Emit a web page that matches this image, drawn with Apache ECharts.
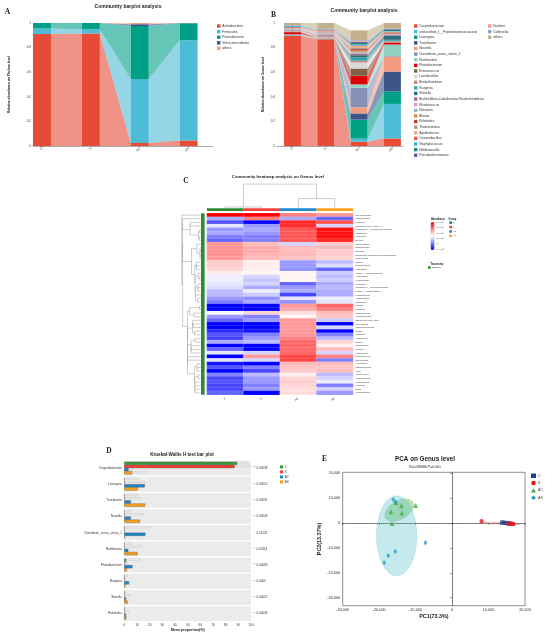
<!DOCTYPE html>
<html>
<head>
<meta charset="utf-8">
<title>Community analysis</title>
<script src="https://cdn.jsdelivr.net/npm/echarts@6/dist/echarts.min.js"></script>
<style>
  html, body { margin: 0; padding: 0; background: #fff; }
  #chart { width: 550px; height: 636px; }
</style>
</head>
<body>
<div id="chart"></div>
<script>
// ---------- shared ----------
const groups = ['C', 'X', 'AC', 'AX'];

// ---------- A: phylum barplot ----------
const phylumNames = ['Actinobacteria', 'Firmicutes', 'Proteobacteria', 'Verrucomicrobiota', 'others'];
const phylumColors = ['#E64B35', '#4DBBD5', '#00A087', '#3C5488', '#F39B7F'];
const phylumValues = [
  [0.910, 0.915, 0.025, 0.045],
  [0.045, 0.035, 0.520, 0.815],
  [0.045, 0.050, 0.430, 0.138],
  [0.000, 0.000, 0.015, 0.001],
  [0.000, 0.000, 0.010, 0.001]
];

// ---------- B: genus barplot ----------
const genusNames = ['Corynebacterium', 'unclassified_f__Peptostreptococcaceae', 'Leisingera', 'Turicibacter',
  'Nautella', 'Clostridium_sensu_stricto_1', 'Romboutsia', 'Photobacterium', 'Enterococcus', 'Lactobacillus',
  'Bradyrhizobium', 'Ruegeria', 'Shinella', 'Burkholderia-Caballeronia-Paraburkholderia', 'Rhodococcus',
  'Ralstonia', 'Blautia', 'Rubritalea', 'Thalassotalea', 'Agathobacter', 'Oceanobacillus', 'Staphylococcus',
  'Holdemanella', 'Pseudoalteromonas', 'Dialister', 'Collinsella', 'others'];
const genusColors = ['#E64B35', '#4DBBD5', '#00A087', '#3C5488', '#F39B7F', '#8491B4', '#91D1C2', '#DC0000',
  '#7E6148', '#D9D9D9', '#C48A8A', '#2BA5A5', '#2E6E7E', '#9E6E8E', '#D7A7B4', '#9CB5C8', '#E0894A',
  '#B5432A', '#A89C94', '#F4A582', '#E5614E', '#3FB2D8', '#1B8A7A', '#6A5E9C', '#EE9C94', '#8FA3C4', '#C2B08A'];
const genusValues = [
  [0.895, 0.868, 0.035, 0.062],
  [0.005, 0.004, 0.024, 0.280],
  [0.001, 0.001, 0.155, 0.103],
  [0.001, 0.001, 0.051, 0.160],
  [0.004, 0.003, 0.049, 0.120],
  [0.001, 0.001, 0.160, 0.005],
  [0.001, 0.001, 0.027, 0.095],
  [0.017, 0.002, 0.070, 0.016],
  [0.002, 0.002, 0.059, 0.003],
  [0.003, 0.004, 0.049, 0.003],
  [0.008, 0.008, 0.015, 0.008],
  [0.001, 0.001, 0.025, 0.008],
  [0.001, 0.001, 0.019, 0.035],
  [0.004, 0.006, 0.010, 0.005],
  [0.005, 0.010, 0.010, 0.003],
  [0.006, 0.008, 0.008, 0.003],
  [0.001, 0.002, 0.010, 0.006],
  [0.001, 0.001, 0.012, 0.008],
  [0.002, 0.003, 0.010, 0.003],
  [0.002, 0.005, 0.012, 0.003],
  [0.006, 0.008, 0.006, 0.002],
  [0.010, 0.006, 0.010, 0.004],
  [0.001, 0.001, 0.012, 0.012],
  [0.001, 0.001, 0.010, 0.006],
  [0.001, 0.002, 0.006, 0.002],
  [0.001, 0.002, 0.006, 0.002],
  [0.019, 0.048, 0.080, 0.043]
];

// ---------- C: heatmap ----------
const heatColumns = ['X', 'C', 'AC', 'AX'];
const heatColumnColors = ['#2E8B34', '#F0433A', '#1E88D2', '#F7A21B'];
const heatGenera = ['Corynebacterium', 'Staphylococcus', 'Leisingera', 'Clostridium_sensu_stricto_1',
  'unclassified_f__Peptostreptococcaceae', 'Romboutsia', 'Turicibacter', 'Nautella', 'Oceanobacillus',
  'Bradyrhizobium', 'Ralstonia', 'Burkholderia-Caballeronia-Paraburkholderia', 'Rhodococcus', 'Bacillus',
  'Brevundimonas', 'Virgibacillus', 'norank_f__Caulobacteraceae', 'Acinetobacter', 'Herbaspirillum',
  'Geobacillus', 'unclassified_f__Enterobacteriaceae', 'norank_f__Muribaculaceae', 'Faecalibaculum',
  'Anaeroplasma', 'Bacteroides', 'Shinella', 'Rubritalea', 'Bifidobacterium', 'Faecalibacterium',
  'Eubacterium_hallii_group', 'Holdemanella', 'Pseudoalteromonas', 'Dialister', 'Collinsella', 'Agathobacter',
  'Blautia', 'Thalassotalea', 'Ruegeria', 'Lactobacillus', 'Photobacterium', 'Enterococcus', 'Alteromonas',
  'Subdoligranulum', 'Vibrio', 'Streptococcus', 'Fusicatenibacter', 'Ruminococcus', 'Prevotella', 'Dorea',
  'Psychrosphaera'];
const heatValues = [
  [3, 3, 1.5, 1.2], [-1, 1.5, -1, -1.8], [-2, -3, 2.5, 2], [-0.3, -1.2, 2.5, -0.5],
  [-1.2, -1, 2, 2.8], [-1, -1.2, 2, 2.8], [-1.5, -1.5, 2, 2.8], [-1.8, -1.5, 2, 2.5],
  [1.2, 0.8, -0.5, 0.6], [1.3, 1.0, 0.8, 0.8], [1.3, 1.0, 0.8, 0.6], [1.3, 0.9, 0.8, 0.6],
  [1.2, 0.8, 0.7, 0.5], [0.6, 0.2, -1.2, -0.8], [0.6, 0.2, -1.2, -0.4], [0.5, 0.2, -1.3, -1.8],
  [0.2, 0.1, 0.1, -0.6], [-0.2, -0.5, 0.1, -0.8], [-0.2, -0.7, 0.1, -0.6], [-0.3, -0.5, -1.8, -1.0],
  [-0.4, -1.0, -1.2, -0.8], [-0.8, -0.2, -1.0, -1.0], [-0.8, -0.6, -2.2, -1.0], [-1.2, -1.3, -0.3, -0.2],
  [-1.5, -1.0, -1.3, -0.3], [-3, -3, 1.2, 1.8], [-3, -3, 1.0, 1.5], [-0.1, 0.5, 0.4, 0.8],
  [-1.2, -1.5, 0.1, 0.7], [-1.8, -1.2, 1.2, -0.6], [-3, -3, 1.2, -3], [-3, -3, 1.2, -0.5],
  [-2.5, -2.8, 1.2, -3], [-2, -1.5, 1.2, -1.5], [-2.2, -1.2, 1.5, -0.8], [-1.0, -0.8, 1.8, 0.5],
  [-3, -3, 1.8, 0.2], [-1.8, -3, 1.8, 0.8], [-0.3, -0.5, 1.8, -0.5], [-3, 1.2, 2.2, 1.5],
  [-0.3, -0.5, 2.2, -1.5], [-2.8, -3, 0.8, 0.8], [-2.0, -1.5, 0.7, 0.7], [-3, -2.2, 0.6, 0.8],
  [-1.5, -0.8, 0.2, -0.8], [-2.2, -1.2, 0.5, -0.5], [-2, -1.2, 0.6, -0.2], [-2.2, -1.5, 0.5, -1.5],
  [-2.2, -1.2, 0.4, -0.5], [-1.8, -3, 0.4, -1.2]
];
const abundanceLabels = ['3 × 10⁴', '2 × 10³', '2 × 10²', '5 × 10¹', '1', '1 × 10⁻¹'];
// row clustering topology (leaf = row index)
const treeTop = [1, [[2, 3], [[4, 5], [6, 7]]]];
const treePink = [8, [[9, 10], [11, 12]]];
const treeMid = [[13, [14, 15]], [[16, [17, 18]], [[19, [20, 21]], [22, [23, 24]]]]];
const treeLow1 = [[25, 26], [27, 28]];
const treeLow2 = [[29, [30, 31]], [32, 33]];
const treeLow3 = [[34, 35], [36, [37, 38]]];
const treeLow4 = [[39, 40], [[41, [42, 43]], [[44, 45], [46, [47, [48, 49]]]]]];
const rowTree = [0, [[treeTop, [treePink, treeMid]], [treeLow1, [treeLow2, [treeLow3, treeLow4]]]]];
const colTree = [[0, 1], [2, 3]];

// ---------- D: Kruskal-Wallis ----------
const kwGenera = ['Corynebacterium', 'Leisingera', 'Turicibacter', 'Nautella', 'Clostridium_sensu_stricto_1',
  'Romboutsia', 'Photobacterium', 'Ruegeria', 'Shinella', 'Rubritalea'];
const kwColors = ['#3A9A3A', '#F0443A', '#1F86C8', '#F59E1A'];
const kwMeanC = [89, 0.2, 0.1, 0.1, 0.1, 0.1, 1.5, 0.1, 0.1, 0.1];
const kwMeanX = [87, 0.2, 0.1, 0.1, 0.1, 0.1, 0.2, 0.1, 0.1, 0.1];
const kwMeanAC = [3.2, 16, 5, 5, 16.5, 3, 6.3, 3.6, 1.3, 1.2];
const kwMeanAX = [6.2, 10.5, 16.3, 12.2, 0.2, 10.3, 2, 0.8, 2.5, 1.5];
const kwUpperC = [97, 11, 10.5, 5, 21, 5.8, 12.4, 2.9, 1, 1];
const kwUpperX = [99, 16, 13.7, 15.5, 0.5, 13.7, 2.6, 0.8, 4.5, 3.4];
const kwUpperAC = [6.6, 16.5, 5.5, 5.5, 17, 3.2, 8.4, 4, 1.8, 1.5];
const kwUpperAX = [17, 10.5, 16.5, 12.5, 0.3, 10.5, 2.3, 1, 2.8, 1.8];
const kwPvalues = [0.00038, 0.00025, 0.00031, 0.00049, 0.01125, 0.00114, 0.00083, 0.0003, 0.00025, 0.00043];

// ---------- E: PCA ----------
const pcaColors = ['#1B4594', '#E8141B', '#45B045', '#1F9FC8'];
const pcaSymbols = ['rect', 'circle', 'triangle', 'diamond'];
const pcaC = [[13700, 250], [14300, 120], [14800, 30], [15300, -80], [15700, -150], [16100, -220]];
const pcaX = [[8100, 750], [15100, -60], [15600, -200], [16100, -280], [16600, -350], [16900, -420]];
const pcaAC = [[-10000, 7100], [-13900, 7000], [-16800, 4560], [-13800, 4020], [-16500, -130], [-15400, 8300]];
const pcaAX = [[-16100, 9500], [-15500, 8450], [-7300, -7900], [-15600, -11400], [-17500, -13100], [-18600, -15950]];
const ellipseCx = [15000, 13200, -14500, -15200];
const ellipseCy = [-50, -150, 5200, -5100];
const ellipseRx = [2000, 5500, 4300, 5500];
const ellipseRy = [250, 350, 3700, 16000];
const ellipseAngle = [0, -3, 30, 0];
const ellipseFill = ['rgba(40,70,150,0.25)', 'rgba(240,120,120,0.3)', 'rgba(120,190,90,0.5)', 'rgba(100,200,210,0.38)'];
const ellipseStroke = ['rgba(40,70,150,0.5)', 'rgba(240,110,110,0.7)', 'rgba(90,170,80,0.6)', 'rgba(90,190,200,0.7)'];

// ---------- helpers ----------
const FONT = 'Liberation Sans';

function stackRibbonSeries(names, colors, values, axisIndex, barPx) {
  function base(k, i) {
    let s = 0;
    for (let j = 0; j < k; j++) s += values[j][i];
    return s;
  }
  return names.map(function (name, k) {
    return {
      name: name,
      type: 'custom',
      xAxisIndex: axisIndex,
      yAxisIndex: axisIndex,
      itemStyle: { color: colors[k] },
      data: groups.map(function (g, i) { return [i, values[k][i]]; }),
      encode: { x: 0, y: 1 },
      renderItem: function (params, api) {
        const i = params.dataIndex;
        const lo = base(k, i), hi = lo + values[k][i];
        const a = api.coord([i, lo]), b = api.coord([i, hi]);
        const half = barPx / 2;
        const kids = [];
        if (i < groups.length - 1) {
          const lo2 = base(k, i + 1), hi2 = lo2 + values[k][i + 1];
          const c = api.coord([i + 1, lo2]), d = api.coord([i + 1, hi2]);
          kids.push({
            type: 'polygon',
            shape: { points: [[a[0] + half, a[1]], [a[0] + half, b[1]], [c[0] - half, d[1]], [c[0] - half, c[1]]] },
            style: { fill: colors[k], opacity: 0.6 }
          });
        }
        kids.push({
          type: 'rect',
          shape: { x: a[0] - half, y: b[1], width: barPx, height: a[1] - b[1] },
          style: { fill: colors[k] }
        });
        return { type: 'group', children: kids };
      }
    };
  });
}

function leavesOf(node) {
  return Array.isArray(node) ? leavesOf(node[0]).concat(leavesOf(node[1])) : [node];
}
function euclid(a, b) {
  let s = 0;
  for (let i = 0; i < a.length; i++) { const d = a[i] - b[i]; s += d * d; }
  return Math.sqrt(s);
}
// average linkage height, kept monotonic
function linkHeight(node, vecs) {
  if (!Array.isArray(node)) return 0;
  const L = leavesOf(node[0]), R = leavesOf(node[1]);
  let s = 0;
  L.forEach(function (i) { R.forEach(function (j) { s += euclid(vecs[i], vecs[j]); }); });
  return Math.max(s / (L.length * R.length), linkHeight(node[0], vecs), linkHeight(node[1], vecs));
}
// returns {p, h}; pushes U-shaped polylines into out
function dendro(node, vecs, leafPos, hPos, toXY, out) {
  if (!Array.isArray(node)) return { p: leafPos(node), h: 0 };
  const a = dendro(node[0], vecs, leafPos, hPos, toXY, out);
  const b = dendro(node[1], vecs, leafPos, hPos, toXY, out);
  const h = linkHeight(node, vecs);
  out.push([toXY(a.p, hPos(a.h)), toXY(a.p, hPos(h)), toXY(b.p, hPos(h)), toXY(b.p, hPos(b.h))]);
  return { p: (a.p + b.p) / 2, h: h };
}

function gText(text, x, y, size, extra) {
  return {
    type: 'text', x: x, y: y, silent: true,
    style: Object.assign({ text: text, fontSize: size, fontFamily: FONT, fill: '#222',
      align: 'center', verticalAlign: 'middle' }, extra || {})
  };
}

const axisLineStyle = { color: '#555', width: 0.5 };
const tickFmt = function (v) { return String(Math.round(v * 10) / 10); };

// ---------- series ----------
const series = [];
stackRibbonSeries(phylumNames, phylumColors, phylumValues, 0, 18).forEach(function (s) { series.push(s); });
stackRibbonSeries(genusNames, genusColors, genusValues, 1, 17).forEach(function (s) { series.push(s); });

// heatmap
const heatData = [];
heatValues.forEach(function (row, r) { row.forEach(function (v, c) { heatData.push([c, r, v]); }); });
const heatIndex = series.length;
series.push({
  type: 'heatmap', xAxisIndex: 2, yAxisIndex: 2, data: heatData,
  itemStyle: { borderColor: 'rgba(255,255,255,0.4)', borderWidth: 0.3 },
  emphasis: { disabled: true }
});

const rowVecs = heatValues;
const colVecs = heatColumns.map(function (col) {
  const gi = groups.indexOf(col);
  return genusValues.map(function (row) { return row[gi]; });
});
const rowMaxH = linkHeight(rowTree, rowVecs);
const colMaxH = linkHeight(colTree, colVecs);

// dendrograms + annotation bars
series.push({
  type: 'custom', xAxisIndex: 2, yAxisIndex: 2, silent: true,
  data: [[0, 0]], encode: { x: 0, y: 1 },
  renderItem: function (params, api) {
    const cell = api.size([1, 1]);
    const o = api.coord([0, 0]);
    const left = o[0] - cell[0] / 2;
    const top = o[1] - cell[1] / 2;
    const bottom = api.coord([0, heatGenera.length - 1])[1] + cell[1] / 2;
    const kids = [];
    const rowLines = [];
    dendro(rowTree, rowVecs,
      function (r) { return api.coord([0, r])[1]; },
      function (h) { return left - 6.3 - h / rowMaxH * 19; },
      function (p, hp) { return [hp, p]; }, rowLines);
    const colLines = [];
    dendro(colTree, colVecs,
      function (c) { return api.coord([c, 0])[0]; },
      function (h) { return top - 5.2 - h / colMaxH * 24; },
      function (p, hp) { return [p, hp]; }, colLines);
    rowLines.concat(colLines).forEach(function (pts) {
      kids.push({ type: 'polyline', shape: { points: pts }, style: { stroke: '#9a9a9a', lineWidth: 0.5, fill: null } });
    });
    kids.push({ type: 'rect', shape: { x: left - 6, y: top, width: 3.6, height: bottom - top }, style: { fill: '#2E8B34' } });
    heatColumns.forEach(function (col, c) {
      const cx = api.coord([c, 0])[0];
      kids.push({ type: 'rect', shape: { x: cx - cell[0] / 2, y: top - 5, width: cell[0], height: 2.7 },
        style: { fill: heatColumnColors[c] } });
    });
    return { type: 'group', children: kids };
  }
});

// D: background bands
series.push({
  type: 'custom', xAxisIndex: 3, yAxisIndex: 3, silent: true, z: 1,
  data: kwGenera.map(function (g, r) { return [0, r]; }), encode: { x: 0, y: 1 },
  renderItem: function (params, api) {
    const r = params.dataIndex;
    const p = api.coord([0, r]);
    const sz = api.size([100, 1]);
    return { type: 'rect', shape: { x: p[0], y: p[1] - sz[1] * 0.46, width: sz[0], height: sz[1] * 0.92 },
      style: { fill: '#EBEBEB' } };
  }
});
// D: grey upper-bound lines
const kwMeans = [kwMeanC, kwMeanX, kwMeanAC, kwMeanAX];
const kwUppers = [kwUpperC, kwUpperX, kwUpperAC, kwUpperAX];
const kwCatGap = 0.22;
const errData = [];
kwGenera.forEach(function (g, r) { kwUppers.forEach(function (u, gi) { errData.push([u[r], r, gi]); }); });
series.push({
  type: 'custom', xAxisIndex: 3, yAxisIndex: 3, silent: true, z: 2,
  data: errData, encode: { x: 0, y: 1 },
  renderItem: function (params, api) {
    const d = errData[params.dataIndex];
    const band = api.size([1, 1])[1];
    const barH = band * (1 - kwCatGap) / 4;
    const y = api.coord([0, d[1]])[1] + (d[2] - 1.5) * barH - barH * 0.25;
    const x0 = api.coord([0, d[1]])[0], x1 = api.coord([d[0], d[1]])[0];
    return { type: 'rect', shape: { x: x0, y: y - 0.6, width: x1 - x0, height: 1.2 },
      style: { fill: '#fff', stroke: '#a8a8a8', lineWidth: 0.35 } };
  }
});
// D: bars
groups.forEach(function (g, gi) {
  series.push({
    name: g, type: 'bar', xAxisIndex: 3, yAxisIndex: 3, z: 3,
    data: kwMeans[gi], barGap: '0%', barCategoryGap: (kwCatGap * 100) + '%',
    itemStyle: { color: kwColors[gi], borderColor: '#333', borderWidth: 0.25 },
    emphasis: { disabled: true }
  });
});
// D: p-values
series.push({
  type: 'custom', xAxisIndex: 3, yAxisIndex: 3, silent: true,
  data: kwPvalues.map(function (p, r) { return [100, r, p]; }), encode: { x: 0, y: 1 },
  renderItem: function (params, api) {
    const r = params.dataIndex;
    const p = kwPvalues[r];
    const pt = api.coord([100, r]);
    const stars = p < 0.001 ? '***' : (p < 0.01 ? '**' : (p < 0.05 ? '*' : ''));
    return { type: 'group', children: [
      { type: 'text', x: pt[0] + 3.3, y: pt[1] + 0.6,
        style: { text: stars, fontSize: 2.8, fontFamily: FONT, fill: '#F08080', align: 'center', verticalAlign: 'middle' } },
      { type: 'text', x: pt[0] + 5.6, y: pt[1],
        style: { text: String(p), fontSize: 3, fontFamily: FONT, fill: '#333', align: 'left', verticalAlign: 'middle' } }
    ] };
  }
});

// E: ellipses
series.push({
  type: 'custom', xAxisIndex: 4, yAxisIndex: 4, silent: true, z: 1,
  data: ellipseCx.map(function (cx, i) { return [cx, ellipseCy[i]]; }), encode: { x: 0, y: 1 },
  renderItem: function (params, api) {
    const i = params.dataIndex;
    const c = api.coord([ellipseCx[i], ellipseCy[i]]);
    const r = api.size([ellipseRx[i], ellipseRy[i]]);
    const phi = ellipseAngle[i] * Math.PI / 180;
    const pts = [];
    for (let s = 0; s < 72; s++) {
      const t = s / 72 * Math.PI * 2;
      const ex = r[0] * Math.cos(t), ey = r[1] * Math.sin(t);
      pts.push([c[0] + ex * Math.cos(phi) - ey * Math.sin(phi), c[1] - (ex * Math.sin(phi) + ey * Math.cos(phi))]);
    }
    return { type: 'polygon', shape: { points: pts }, style: { fill: ellipseFill[i], stroke: ellipseStroke[i], lineWidth: 0.4 } };
  }
});
// E: points
[pcaC, pcaX, pcaAC, pcaAX].forEach(function (pts, gi) {
  const s = {
    name: groups[gi], type: 'scatter', xAxisIndex: 4, yAxisIndex: 4, z: 3,
    data: pts, symbol: pcaSymbols[gi],
    symbolSize: gi === 3 ? [3.6, 5.6] : (gi === 2 ? 5 : 4.2),
    itemStyle: { color: pcaColors[gi] },
    emphasis: { disabled: true }
  };
  if (gi === 0) {
    s.markLine = {
      silent: true, symbol: 'none', label: { show: false },
      lineStyle: { type: [1.2, 1.2], color: '#555', width: 0.6 },
      data: [{ xAxis: 0 }, { yAxis: 0 }]
    };
  }
  series.push(s);
});

// ---------- legends ----------
function legendItems(names, colors, icons) {
  return names.map(function (n, k) {
    return { name: n, icon: icons ? icons[k] : 'rect',
      itemStyle: { color: colors[k], borderWidth: 0, borderColor: colors[k], opacity: 1 } };
  });
}
const legendBase = { orient: 'vertical', padding: 0, selectedMode: false, itemWidth: 3.4, itemHeight: 3.4,
  itemStyle: { borderWidth: 0 },
  textStyle: { fontSize: 3.3, lineHeight: 4, fontFamily: FONT, color: '#333', padding: [0, 0, 0, -3.2] } };

const legends = [
  Object.assign({}, legendBase, { left: 217, top: 24, itemGap: 1.6,
    data: legendItems(phylumNames, phylumColors) }),
  Object.assign({}, legendBase, { left: 414, top: 24, itemGap: 1.62,
    data: legendItems(genusNames.slice(0, 24), genusColors.slice(0, 24)) }),
  Object.assign({}, legendBase, { left: 488, top: 24, itemGap: 1.62,
    data: legendItems(genusNames.slice(24), genusColors.slice(24)) }),
  Object.assign({}, legendBase, { left: 280, top: 465, itemGap: 1.2, itemWidth: 3, itemHeight: 3,
    textStyle: { fontSize: 3, lineHeight: 3.8, fontFamily: FONT, color: '#333', padding: [0, 0, 0, -3.2] },
    data: legendItems(groups, kwColors) }),
  Object.assign({}, legendBase, { left: 531, top: 473.5, itemGap: 2.8, itemWidth: 5, itemHeight: 4.5,
    textStyle: { fontSize: 3.6, lineHeight: 4.5, fontFamily: FONT, color: '#333', padding: [0, 0, 0, -3] },
    data: legendItems(groups, pcaColors, pcaSymbols) })
];

// ---------- graphic texts ----------
const serif = { fontFamily: 'Liberation Serif', fontWeight: 'bold' };
const graphics = [
  gText('A', 7.5, 12.5, 7.5, serif),
  gText('B', 273.5, 15, 7.5, serif),
  gText('C', 186, 181, 7.5, serif),
  gText('D', 109, 451.5, 7.5, serif),
  gText('E', 324.5, 459.5, 7.5, serif),
  gText('Community barplot analysis', 128, 6.2, 5, { fontWeight: 'bold' }),
  gText('Community barplot analysis', 364, 11, 5, { fontWeight: 'bold' }),
  gText('Community heatmap analysis on Genus level', 278, 177.2, 4.3, { fontWeight: 'bold' }),
  gText('Kruskal-Wallis H test bar plot', 182, 455, 4.6, { fontWeight: 'bold' }),
  gText('PCA on Genus level', 425, 459.5, 6.3, { fontWeight: 'bold' }),
  gText('R=0.68688,{i|P}=0.001', 425, 467.2, 3.6, { rich: { i: { fontStyle: 'italic', fontSize: 3.6, fontFamily: FONT } } }),
  gText('Abundance', 438, 219, 2.6, { fontWeight: 'bold' }),
  gText('Group', 452.5, 219, 2.6, { fontWeight: 'bold' }),
  gText('Taxonomy', 437, 264.5, 2.6, { fontWeight: 'bold' }),
  { type: 'rect', shape: { x: 428, y: 266.2, width: 2.6, height: 2.6 }, style: { fill: '#2E8B34' }, silent: true },
  gText('Bacteria', 432, 267.5, 2.3, { align: 'left' })
];
abundanceLabels.forEach(function (t, i) {
  graphics.push(gText(t, 436.5, 222.5 + i * 5.3, 2.3, { align: 'left' }));
});
groups.forEach(function (g, i) {
  graphics.push({ type: 'rect', shape: { x: 449.3, y: 221.3 + i * 4.4, width: 2.6, height: 2.6 },
    style: { fill: heatColumnColors[i] }, silent: true });
  graphics.push(gText(g, 453, 222.6 + i * 4.4, 2.3, { align: 'left' }));
});

// ---------- option ----------
const option = {
  animation: false,
  textStyle: { fontFamily: FONT },
  grid: [
    { left: 33, top: 23, width: 180, height: 123, outerBoundsMode: 'none' },
    { left: 277, top: 23, width: 125.9, height: 123, outerBoundsMode: 'none' },
    { left: 207, top: 213.3, width: 146, height: 181.4, outerBoundsMode: 'none' },
    { left: 124.3, top: 460, width: 126.7, height: 161.7, outerBoundsMode: 'none' },
    { left: 342.7, top: 472.3, width: 182.3, height: 133.4, show: true, borderColor: '#222', borderWidth: 0.5, outerBoundsMode: 'none' }
  ],
  xAxis: [
    { gridIndex: 0, type: 'value', min: -0.184, max: 3.5, splitLine: { show: false },
      axisLine: { lineStyle: axisLineStyle },
      axisTick: { customValues: [0, 1, 2, 3], length: 1.5, lineStyle: axisLineStyle },
      axisLabel: { customValues: [0, 1, 2, 3], formatter: function (v) { return groups[Math.round(v)]; },
        rotate: 45, fontSize: 3.2, color: '#333', margin: 2 } },
    { gridIndex: 1, type: 'value', min: -0.465, max: 3.315, splitLine: { show: false },
      axisLine: { lineStyle: axisLineStyle },
      axisTick: { customValues: [0, 1, 2, 3], length: 1.5, lineStyle: axisLineStyle },
      axisLabel: { customValues: [0, 1, 2, 3], formatter: function (v) { return groups[Math.round(v)]; },
        rotate: 45, fontSize: 3.2, color: '#333', margin: 2 } },
    { gridIndex: 2, type: 'category', data: heatColumns, axisLine: { show: false }, axisTick: { show: false },
      axisLabel: { interval: 0, rotate: 45, fontSize: 3, color: '#333', margin: 3 } },
    { gridIndex: 3, type: 'value', min: 0, max: 100, interval: 10, splitLine: { show: false },
      axisLine: { lineStyle: { color: '#222', width: 0.5 } },
      axisTick: { length: 1.5, lineStyle: { color: '#222', width: 0.5 } },
      axisLabel: { fontSize: 3.2, color: '#333', margin: 2 },
      name: 'Mean proportion(%)', nameLocation: 'middle', nameGap: 6.5,
      nameTextStyle: { fontSize: 3.6, fontWeight: 'bold', color: '#222' } },
    { gridIndex: 4, type: 'value', min: -30000, max: 20000, interval: 10000, splitLine: { show: false },
      axisLine: { lineStyle: { color: '#222', width: 0.5 } },
      axisTick: { length: 1.8, lineStyle: { color: '#222', width: 0.5 } },
      axisLabel: { fontSize: 3.8, color: '#333', margin: 2.5,
        formatter: function (v) { return v.toLocaleString('en-US'); } },
      name: 'PC1(73.3%)', nameLocation: 'middle', nameGap: 8,
      nameTextStyle: { fontSize: 5.4, fontWeight: 'bold', color: '#222' } }
  ],
  yAxis: [
    { gridIndex: 0, type: 'value', min: 0, max: 1, interval: 0.2, splitLine: { show: false },
      axisLine: { show: true, lineStyle: axisLineStyle },
      axisTick: { show: true, length: 1.5, lineStyle: axisLineStyle },
      axisLabel: { fontSize: 3, color: '#333', margin: 2, formatter: tickFmt },
      name: 'Relative abundance on Phylum level', nameLocation: 'middle', nameGap: 22,
      nameTextStyle: { fontSize: 3.3, fontWeight: 'bold', color: '#222' } },
    { gridIndex: 1, type: 'value', min: 0, max: 1, interval: 0.2, splitLine: { show: false },
      axisLine: { show: true, lineStyle: axisLineStyle },
      axisTick: { show: true, length: 1.5, lineStyle: axisLineStyle },
      axisLabel: { fontSize: 3, color: '#333', margin: 2, formatter: tickFmt },
      name: 'Relative abundance on Genus level', nameLocation: 'middle', nameGap: 12,
      nameTextStyle: { fontSize: 3.3, fontWeight: 'bold', color: '#222' } },
    { gridIndex: 2, type: 'category', data: heatGenera, inverse: true, position: 'right',
      axisLine: { show: false }, axisTick: { show: false },
      axisLabel: { interval: 0, fontSize: 2.1, color: '#333', margin: 2.5 } },
    { gridIndex: 3, type: 'category', data: kwGenera, inverse: true,
      axisLine: { show: false }, axisTick: { show: false },
      axisLabel: { interval: 0, fontSize: 3, color: '#333', margin: 2.5 } },
    { gridIndex: 4, type: 'value', min: -33200, max: 20400, splitLine: { show: false },
      axisLine: { show: true, lineStyle: { color: '#222', width: 0.5 } },
      axisTick: { show: true, length: 1.8, customValues: [-30000, -20000, -10000, 0, 10000, 20000],
        lineStyle: { color: '#222', width: 0.5 } },
      axisLabel: { fontSize: 3.8, color: '#333', margin: 2.5,
        customValues: [-30000, -20000, -10000, 0, 10000, 20000],
        formatter: function (v) { return v.toLocaleString('en-US'); } },
      name: 'PC2(13.37%)', nameLocation: 'middle', nameGap: 21,
      nameTextStyle: { fontSize: 5.4, fontWeight: 'bold', color: '#222' } }
  ],
  visualMap: {
    type: 'continuous', min: -3, max: 3, dimension: 2, seriesIndex: heatIndex,
    inRange: { color: ['#0000FF', '#FFFFFF', '#FF0000'] },
    orient: 'vertical', left: 430.5, top: 222, itemWidth: 4, itemHeight: 28, padding: 0,
    calculable: false, hoverLink: false, show: true
  },
  legend: legends,
  graphic: graphics,
  series: series
};

const chart = echarts.init(document.getElementById('chart'), null, { renderer: 'canvas' });
chart.setOption(option);
</script>
</body>
</html>
